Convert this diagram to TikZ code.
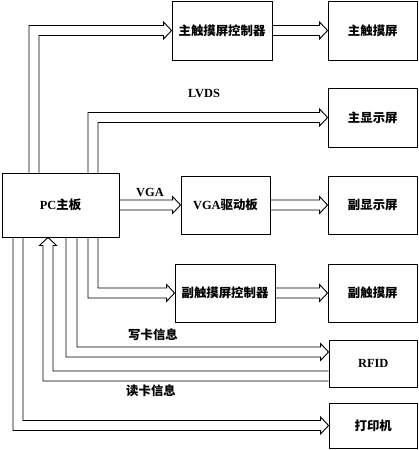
\documentclass[tikz,border=0pt]{standalone}
\usepackage{fontspec}
\setmainfont{Liberation Serif}
\newfontfamily\cjk{Noto Sans CJK SC}
\usetikzlibrary{calc}
\newcommand\rhead[1]{-- ($(#1)+(-8,-5)$) -- ($(#1)+(-8,-8.5)$) -- (#1) -- ($(#1)+(-8,8.5)$) -- ($(#1)+(-8,5)$)}
\newcommand\uhead[1]{-- ($(#1)+(5,8)$) -- ($(#1)+(8.5,8)$) -- (#1) -- ($(#1)+(-8.5,8)$) -- ($(#1)+(-5,8)$)}
\begin{document}
\begin{tikzpicture}[x=1pt,y=-1pt,
  box/.style={draw,line width=0.9pt,inner sep=0pt,font=\fontsize{12.4}{14}\selectfont\bfseries},
  lbl/.style={inner sep=0pt,font=\fontsize{12.4}{14}\selectfont\bfseries},
  conn/.style={draw,line width=0.9pt,line join=miter}]
\useasboundingbox (0,0) rectangle (419,450);
% boxes
\node[box,minimum width=100,minimum height=59] (ctrl1) at (222,30.5) {\cjk 主触摸屏控制器};
\node[box,minimum width=89.5,minimum height=59] (touch1) at (372.75,30.5) {\cjk 主触摸屏};
\node[box,minimum width=89.5,minimum height=59] (disp1) at (372.75,117.5) {\cjk 主显示屏};
\node[box,minimum width=117,minimum height=64] (pc) at (60.5,205) {PC{\cjk 主板}};
\node[box,minimum width=89,minimum height=58] (vga) at (225.5,205) {VGA{\cjk 驱动板}};
\node[box,minimum width=89.5,minimum height=58] (disp2) at (372.75,205) {\cjk 副显示屏};
\node[box,minimum width=100,minimum height=58] (ctrl2) at (225,293) {\cjk 副触摸屏控制器};
\node[box,minimum width=89.5,minimum height=58] (touch2) at (372.75,293) {\cjk 副触摸屏};
\node[box,minimum width=88.5,minimum height=47] (rfid) at (373.25,363.5) {RFID};
\node[box,minimum width=88.5,minimum height=45] (printer) at (373.25,425.5) {\cjk 打印机};
% labels
\node[lbl] (lvds) at (204,93) {LVDS};
\node[lbl] (vgal) at (150,192) {VGA};
\node[lbl] (wr) at (153,335) {\cjk 写卡信息};
\node[lbl] (rd) at (151,391) {\cjk 读卡信息};
% helper coordinates
\coordinate (wtip) at ($(rfid.west)+(0,-11.5)$);
\coordinate (rtip) at (48,0 |- pc.south);
% connectors
\draw[conn] (29,0 |- pc.north) -- (29,25.5) \rhead{ctrl1.west} -- (39,35.5) -- (39,0 |- pc.north);
\draw[conn] ($(ctrl1.east)+(0,-5)$) \rhead{touch1.west} -- ($(ctrl1.east)+(0,5)$);
\draw[conn] (88,0 |- pc.north) -- (88,112.5) \rhead{disp1.west} -- (98,122.5) -- (98,0 |- pc.north);
\draw[conn] ($(pc.east)+(0,-5)$) \rhead{vga.west} -- ($(pc.east)+(0,5)$);
\draw[conn] ($(vga.east)+(0,-5)$) \rhead{disp2.west} -- ($(vga.east)+(0,5)$);
\draw[conn] ($(ctrl2.east)+(0,-5)$) \rhead{touch2.west} -- ($(ctrl2.east)+(0,5)$);
\draw[conn] (98,0 |- pc.south) -- (98,288) \rhead{ctrl2.west} -- (88,298) -- (88,0 |- pc.south);
\draw[conn] (77,0 |- pc.south) -- (77,347) \rhead{wtip} -- (66,357) -- (66,0 |- pc.south);
\draw[conn] ($(rfid.west)+(0,7.5)$) -- (53,371) \uhead{rtip} -- (43,381) -- ($(rfid.west)+(0,17.5)$);
\draw[conn] (23,0 |- pc.south) -- (23,420.5) \rhead{printer.west} -- (13,430.5) -- (13,0 |- pc.south);
\end{tikzpicture}
\end{document}
